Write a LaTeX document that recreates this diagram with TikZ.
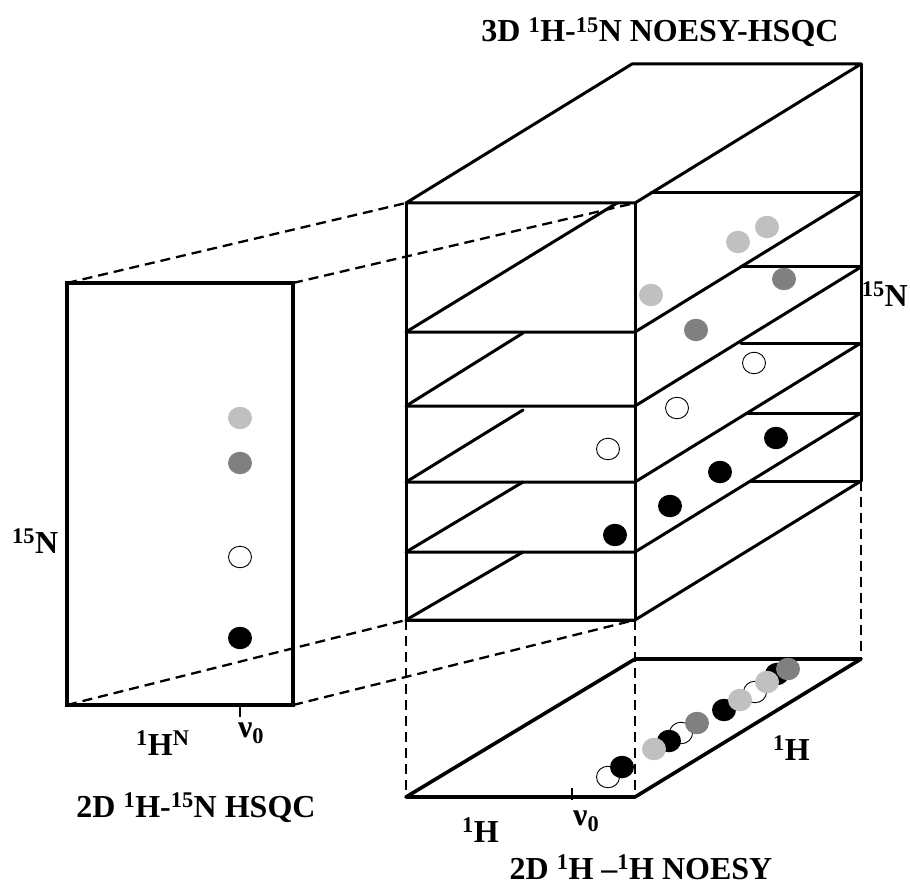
\documentclass[tikz,border=0pt]{standalone}
\usepackage{fontspec}
\setmainfont{Liberation Serif}
\usetikzlibrary{shapes.geometric}
\definecolor{lgray}{HTML}{C0C0C0}
\definecolor{dgray}{HTML}{808080}
\begin{document}
\begin{tikzpicture}[x=1pt,y=-1pt,
  boxline/.style={line width=3pt, line cap=round, line join=round},
  noesyline/.style={line width=3.6pt, line cap=round, line join=round},
  hsqcline/.style={line width=4.4pt, line join=miter},
  dashline/.style={line width=2.3pt, dash pattern=on 10pt off 6pt},
  tickline/.style={line width=1.8pt},
  dot/.style={ellipse, inner sep=0pt, minimum width=24pt, minimum height=22.5pt},
  dotw/.style={dot, draw=black, line width=0.9pt, fill=white, minimum width=23pt, minimum height=21.5pt},
  dotb/.style={dot, fill=black},
  dotl/.style={dot, fill=lgray},
  dotd/.style={dot, fill=dgray},
  lab/.style={inner sep=0pt, font=\fontsize{32}{38}\selectfont\bfseries},
]
\useasboundingbox (0,0) rectangle (910,885);

% ---------- coordinates ----------
\coordinate (FTL) at (406,203);
\coordinate (FTR) at (635,203);
\coordinate (BTL) at (632,64);
\coordinate (BTR) at (861,64);
% planes: front left, front right, back right, back start, left diag end
\coordinate (P1L) at (406,332); \coordinate (P1R) at (635,332); \coordinate (P1B) at (861,193); \coordinate (P1S) at (651,193); \coordinate (P1D) at (617,203);
\coordinate (P2L) at (406,406); \coordinate (P2R) at (635,406); \coordinate (P2B) at (861,267); \coordinate (P2S) at (741,267); \coordinate (P2D) at (523,333);
\coordinate (P3L) at (406,482); \coordinate (P3R) at (635,482); \coordinate (P3B) at (861,343); \coordinate (P3S) at (741,343); \coordinate (P3D) at (523,410);
\coordinate (P4L) at (406,552); \coordinate (P4R) at (635,552); \coordinate (P4B) at (861,413); \coordinate (P4S) at (747,413); \coordinate (P4D) at (523,482);
\coordinate (P5L) at (406,620); \coordinate (P5R) at (635,620); \coordinate (P5B) at (861,481); \coordinate (P5S) at (750,481); \coordinate (P5D) at (523,552);
% HSQC rectangle
\coordinate (HTL) at (67,283); \coordinate (HTR) at (293,283);
\coordinate (HBL) at (67,705); \coordinate (HBR) at (293,705);
% NOESY plane
\coordinate (NFL) at (406,797); \coordinate (NFR) at (635,797);
\coordinate (NBL) at (635,659); \coordinate (NBR) at (861,659);
% ticks
\coordinate (HT1) at (240,705); \coordinate (HT2) at (240,717);
\coordinate (NT1) at (572,788); \coordinate (NT2) at (572,800);

% ---------- dashed projections ----------
\draw[dashline] (HTL) -- (FTL);
\draw[dashline] (HTR) -- (FTR);
\draw[dashline] (HBL) -- (P5L);
\draw[dashline] (HBR) -- (P5R);
\draw[dashline] (P5L) -- (NFL);
\draw[dashline] (P5R) -- (NFR);
\draw[dashline] (P5B) -- (NBR);

% ---------- 3D box ----------
\draw[boxline] (FTL) -- (FTR) -- (BTR) -- (BTL) -- cycle;
\draw[boxline] (FTL) -- (P5L) -- (P5R) -- (FTR);
\draw[boxline] (BTR) -- (P5B);
\foreach \k in {1,...,5}{
  \draw[boxline] (P\k L) -- (P\k R) -- (P\k B);
  \draw[boxline] (P\k S) -- (P\k B);
  \draw[boxline] (P\k L) -- (P\k D);
}

% ---------- HSQC rectangle ----------
\draw[hsqcline] (HTL) rectangle (HBR);
\draw[tickline] (HT1) -- (HT2);

% ---------- NOESY plane ----------
\draw[noesyline] (NFL) -- (NFR) -- (NBR) -- (NBL) -- cycle;
\draw[tickline] (NT1) -- (NT2);

% ---------- peaks: HSQC ----------
\node[dotl] (h1) at (240,418) {};
\node[dotd] (h2) at (240,463) {};
\node[dotw] (h3) at (240,557) {};
\node[dotb] (h4) at (240,638) {};

% ---------- peaks: 3D ----------
\node[dotl] (c1) at (767,227) {};
\node[dotl] (c2) at (738,242) {};
\node[dotl] (c3) at (651,295) {};
\node[dotd] (c4) at (784,279) {};
\node[dotd] (c5) at (696,330) {};
\node[dotw] (c6) at (754,363) {};
\node[dotw] (c7) at (677,408) {};
\node[dotw] (c8) at (608,449) {};
\node[dotb] (c9) at (776,438) {};
\node[dotb] (c10) at (720,472) {};
\node[dotb] (c11) at (670,506) {};
\node[dotb] (c12) at (615,535) {};

% ---------- peaks: NOESY ----------
\node[dotw] (n1) at (608,777) {};
\node[dotw] (n5) at (681,733) {};
\node[dotw] (n9) at (755,692) {};
\node[dotb] (n2) at (622,767) {};
\node[dotb] (n4) at (669,741) {};
\node[dotb] (n7) at (724,710) {};
\node[dotb] (n11) at (777,674) {};
\node[dotl] (n3) at (654,749) {};
\node[dotl] (n8) at (740,700) {};
\node[dotl] (n10) at (767,682) {};
\node[dotd] (n6) at (697,723) {};
\node[dotd] (n12) at (788,669) {};

% ---------- labels ----------
\node[lab, anchor=base] (t3d) at (660,42) {3D \textsuperscript{1}H-\textsuperscript{15}N NOESY-HSQC};
\node[lab, anchor=base east] (nr) at (908,306) {\textsuperscript{15}N};
\node[lab, anchor=base west] (nl) at (12,553) {\textsuperscript{15}N};
\node[lab, anchor=base west] (hn) at (136,755) {\textsuperscript{1}H\textsuperscript{N}};
\node[lab, anchor=base west] (nu1) at (238,737) {ν\textsubscript{0}};
\node[lab, anchor=base] (t2a) at (196,817) {2D \textsuperscript{1}H-\textsuperscript{15}N HSQC};
\node[lab, anchor=base west] (h1l) at (462,842) {\textsuperscript{1}H};
\node[lab, anchor=base west] (nu2) at (573,825) {ν\textsubscript{0}};
\node[lab, anchor=base west] (h1r) at (773,760) {\textsuperscript{1}H};
\node[lab, anchor=base] (t2b) at (641,879) {2D \textsuperscript{1}H –\textsuperscript{1}H NOESY};
\end{tikzpicture}
\end{document}
